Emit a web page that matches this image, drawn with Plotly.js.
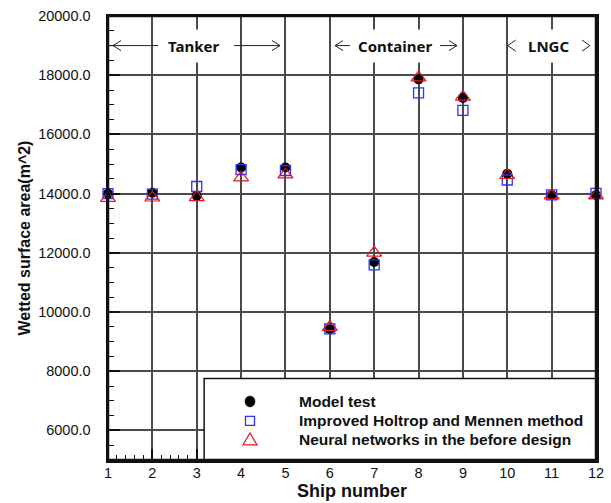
<!DOCTYPE html>
<html>
<head>
<meta charset="utf-8">
<script src="https://cdn.plot.ly/plotly-3.0.1.min.js"></script>
<style>
  html, body { margin: 0; padding: 0; background: #fff; }
  #chart { width: 611px; height: 503px; }
</style>
</head>
<body>
<div id="chart"></div>
<script>
// Wetted surface area of twelve ships: model test vs. two prediction methods
const ships = [1, 2, 3, 4, 5, 6, 7, 8, 9, 10, 11, 12];
const modelTest = [14000, 14030, 13930, 14880, 14880, 9420, 11690, 17860, 17230, 14670, 13955, 13955];
const holtropMennen = [14000, 13980, 14240, 14810, 14780, 9430, 11590, 17400, 16810, 14460, 13955, 14010];
const neuralNetworks = [13850, 13860, 13870, 14540, 14640, 9490, 12000, 17920, 17265, 14620, 13930, 13930];

const seriesNames = [
  'Model test',
  'Improved Holtrop and Mennen method',
  'Neural networks in the before design'
];
const shipGroups = ['Tanker', 'Container', 'LNGC'];
const xTickLabels = ships.map(String);

const tickFont = { family: 'Liberation Sans, Arial, sans-serif', size: 14.5, color: '#111' };
const xTitleFont = { family: 'Liberation Sans, Arial, sans-serif', size: 18, color: '#111' };
const yTitleFont = { family: 'Liberation Sans, Arial, sans-serif', size: 16, color: '#111' };
const groupFont = { family: 'Noto Sans, Open Sans, sans-serif', size: 15, color: '#111' };
const keyFont = { family: 'Liberation Sans, Arial, sans-serif', size: 15.5, color: '#111' };
const gridColor = '#4a4a4a';
const colors = { model: '#000', holtrop: '#2f2fff', neural: '#e3171f' };

const traces = [
  {
    x: ships, y: modelTest, name: seriesNames[0], type: 'scatter', mode: 'markers',
    cliponaxis: false,
    marker: { symbol: 'circle', size: 10, color: colors.model, line: { width: 0 } }
  },
  {
    x: ships, y: holtropMennen, name: seriesNames[1], type: 'scatter', mode: 'markers',
    cliponaxis: false,
    marker: { symbol: 'square-open', size: 10, color: colors.holtrop, line: { width: 1.3 } }
  },
  {
    x: ships, y: neuralNetworks, name: seriesNames[2], type: 'scatter', mode: 'markers',
    cliponaxis: false,
    marker: { symbol: 'triangle-up-open', size: 13, color: colors.neural, line: { width: 1.2 } }
  }
];

// Ship-type bands along the top: arrow shafts and chevron heads
const bandY = 19000;
function shaft(x0, x1) {
  return { type: 'line', xref: 'x', yref: 'y', x0: x0, x1: x1, y0: bandY, y1: bandY,
           line: { color: '#222', width: 1 }, layer: 'above' };
}
function chevron(xTip, dir, w, h) {
  const s = dir < 0 ? w : -w;
  return { type: 'path', xref: 'x', yref: 'y', xsizemode: 'pixel', ysizemode: 'pixel',
           xanchor: xTip, yanchor: bandY,
           path: 'M' + s + ',' + h + ' L0,0 L' + s + ',' + (-h),
           line: { color: '#222', width: 1 }, layer: 'above' };
}

// Key panel: white fill hiding the grid, then the frame drawn back on top
const legendBox = { x0: 0.197, y1: 0.1835 };
const keySymbolX = 0.291, keyTextX = 0.3873;
const keyRows = [0.1318, 0.0879, 0.0452];
function keySymbol(kind, row, color) {
  const base = { xref: 'paper', yref: 'paper', xsizemode: 'pixel', ysizemode: 'pixel',
                 xanchor: keySymbolX, yanchor: keyRows[row], layer: 'above' };
  if (kind === 'circle') {
    return Object.assign(base, { type: 'circle', x0: -5, x1: 5, y0: -5.5, y1: 5.5,
                                 fillcolor: color, line: { color: color, width: 0.5 } });
  }
  if (kind === 'square') {
    return Object.assign(base, { type: 'rect', x0: -4.5, x1: 4.5, y0: -4.5, y1: 4.5,
                                 line: { color: color, width: 1.3 } });
  }
  return Object.assign(base, { type: 'path', path: 'M-7,-5 L7,-5 L0,7 Z',
                               line: { color: color, width: 1.2 } });
}

const shapes = [
  { type: 'rect', xref: 'paper', yref: 'paper', x0: legendBox.x0, x1: 1, y0: 0, y1: legendBox.y1,
    fillcolor: '#fff', line: { width: 0 }, layer: 'above' },
  { type: 'path', xref: 'paper', yref: 'paper',
    path: 'M' + legendBox.x0 + ',0 L' + legendBox.x0 + ',' + legendBox.y1 + ' L1,' + legendBox.y1,
    line: { color: '#111', width: 1.5 }, layer: 'above' },
  { type: 'rect', xref: 'paper', yref: 'paper', x0: 0, x1: 1, y0: 0, y1: 1,
    line: { color: '#111', width: 2.5 }, layer: 'above' },
  shaft(1.0, 2.127), chevron(1.113, -1, 8, 5),
  shaft(3.84, 4.877), chevron(4.877, 1, 8, 5),
  shaft(6.117, 6.455), chevron(6.117, -1, 8, 5),
  shaft(8.484, 8.867), chevron(8.867, 1, 8, 5),
  chevron(10.01, -1, 8, 5.5),
  chevron(11.865, 1, 8, 5.5),
  keySymbol('circle', 0, colors.model),
  keySymbol('square', 1, colors.holtrop),
  keySymbol('triangle', 2, colors.neural)
];

const groupCenters = [2.916, 7.47, 10.94];
const annotations = shipGroups.map((g, i) => ({
  x: groupCenters[i], y: bandY, xref: 'x', yref: 'y',
  text: '<b>' + g + '</b>', showarrow: false,
  font: groupFont, bgcolor: '#fff', borderpad: 6
})).concat(seriesNames.map((name, i) => ({
  x: keyTextX, y: keyRows[i], xref: 'paper', yref: 'paper',
  xanchor: 'left', yanchor: 'middle',
  text: '<b>' + name + '</b>', showarrow: false, font: keyFont
})));

const layout = {
  width: 611, height: 503,
  margin: { l: 108, r: 15, t: 16, b: 43, pad: 0 },
  paper_bgcolor: '#fff', plot_bgcolor: '#fff',
  showlegend: false,
  xaxis: {
    range: [1, 12], tickmode: 'array', tickvals: ships, ticktext: xTickLabels,
    showgrid: true, gridcolor: gridColor, gridwidth: 2,
    zeroline: false, showline: true, linecolor: '#111', linewidth: 2.5, mirror: true,
    ticks: 'inside', ticklen: 11, tickwidth: 2, tickcolor: '#111',
    minor: { dtick: 0.2, ticks: 'inside', ticklen: 5, tickwidth: 1, tickcolor: '#111', showgrid: false },
    tickfont: tickFont, ticklabelstandoff: -2,
    title: { text: '<b>Ship number</b>', font: xTitleFont, standoff: 0 }
  },
  yaxis: {
    range: [5000, 20000], dtick: 2000, tick0: 0, tickformat: '.1f',
    showgrid: true, gridcolor: gridColor, gridwidth: 2,
    zeroline: false, showline: true, linecolor: '#111', linewidth: 2.5, mirror: true,
    ticks: 'inside', ticklen: 12, tickwidth: 2, tickcolor: '#111',
    minor: { dtick: 500, ticks: 'inside', ticklen: 6, tickwidth: 1, tickcolor: '#111', showgrid: false },
    tickfont: tickFont, ticklabelstandoff: 12,
    title: { text: '<b>Wetted surface area(m^2)</b>', font: yTitleFont, standoff: 4 }
  },
  shapes: shapes,
  annotations: annotations
};

Plotly.newPlot('chart', traces, layout, { displayModeBar: false, staticPlot: true });
</script>
</body>
</html>
